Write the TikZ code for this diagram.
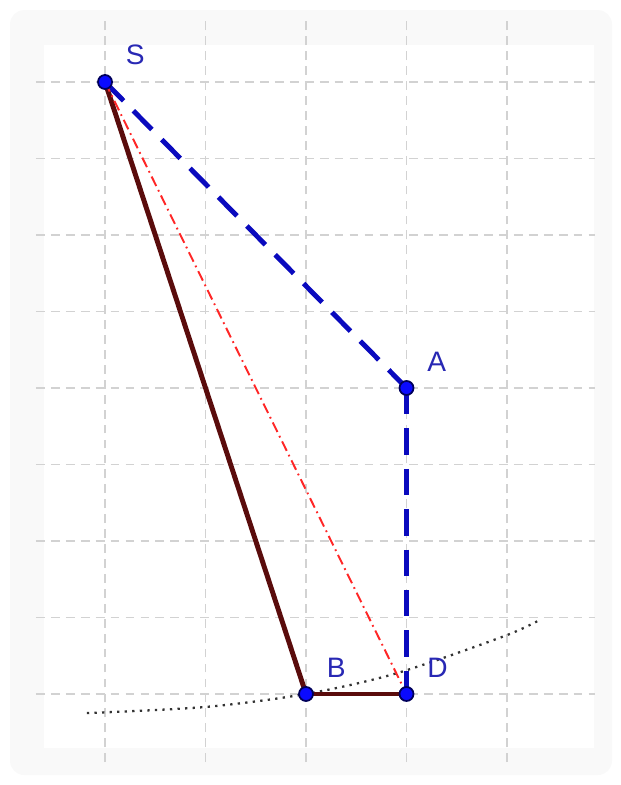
\documentclass[tikz,border=0pt]{standalone}
\usepackage{fontspec}
\setsansfont{Liberation Sans}
\usetikzlibrary{positioning,calc}

\definecolor{labelblue}{RGB}{40,40,180}
\definecolor{edgeblue}{RGB}{10,10,190}
\definecolor{maroon}{RGB}{90,12,12}
\definecolor{ptfill}{RGB}{10,10,255}
\definecolor{ptdraw}{RGB}{0,0,90}

\pgfdeclarelayer{bg}
\pgfdeclarelayer{lines}
\pgfsetlayers{bg,lines,main}

\begin{document}
\begin{tikzpicture}[x=2.01cm, y=1.53cm,
    gridline/.style={draw=gray!35, line width=1.1pt, dash pattern=on 5pt off 3.5pt},
    pt/.style={circle, draw=ptdraw, fill=ptfill, line width=1pt, inner sep=0pt, minimum size=0.28cm},
    ptlabel/.style={font=\sffamily\fontsize{16}{16}\selectfont, text=labelblue, inner sep=0pt},
    edge/.style={line width=2.8pt, draw=maroon},
    hidden/.style={line width=2.8pt, draw=edgeblue, dash pattern=on 15pt off 8pt},
    altitude/.style={draw=red!85, line width=1.1pt, dash pattern=on 6pt off 2.5pt on 1pt off 2.5pt},
    circ/.style={draw=gray!40!black, line width=1.3pt, dash pattern=on 1.3pt off 3pt},
]

\useasboundingbox (-1.045,-1.19) rectangle (5.134,9.072);

% Frame and grid
\begin{pgfonlayer}{bg}
\fill[gray!5, rounded corners=8pt] (-0.945,-1.06) rectangle (5.045,8.94);
\fill[white] (-0.607,-0.706) rectangle (4.866,8.48);
\foreach \i in {0,...,4}
  \draw[gridline] (\i,-0.89) -- (\i,8.85);
\foreach \j in {0,...,8}
  \draw[gridline] (-0.687,\j) -- (4.876,\j);
% base circle
\draw[circ] plot[smooth] coordinates {(-0.18,-0.25) (1,-0.17) (2,0) (2.9,0.27) (3.96,0.75) (4.3,0.95)};
\end{pgfonlayer}

% Points
\node[pt] (S) at (0,8) {};
\node[pt] (A) at (3,4) {};
\node[pt] (B) at (2,0) {};
\node[pt] (D) at (3,0) {};

\node[ptlabel, above right=0.22cm and 0.3cm of S] (Slbl) {S};
\node[ptlabel, above right=0.22cm and 0.3cm of A] (Albl) {A};
\node[ptlabel, above right=0.22cm and 0.3cm of B] (Blbl) {B};
\node[ptlabel, above right=0.22cm and 0.3cm of D] (Dlbl) {D};

% Segments
\begin{pgfonlayer}{lines}
\draw[edge] (S.center) -- (B.center);
\draw[edge] (B.center) -- (D.center);
\draw[hidden] (S.center) -- (A.center);
\draw[hidden] (A.center) -- (D.center);
\draw[altitude] (S.center) -- (D.center);
\end{pgfonlayer}

\end{tikzpicture}
\end{document}
